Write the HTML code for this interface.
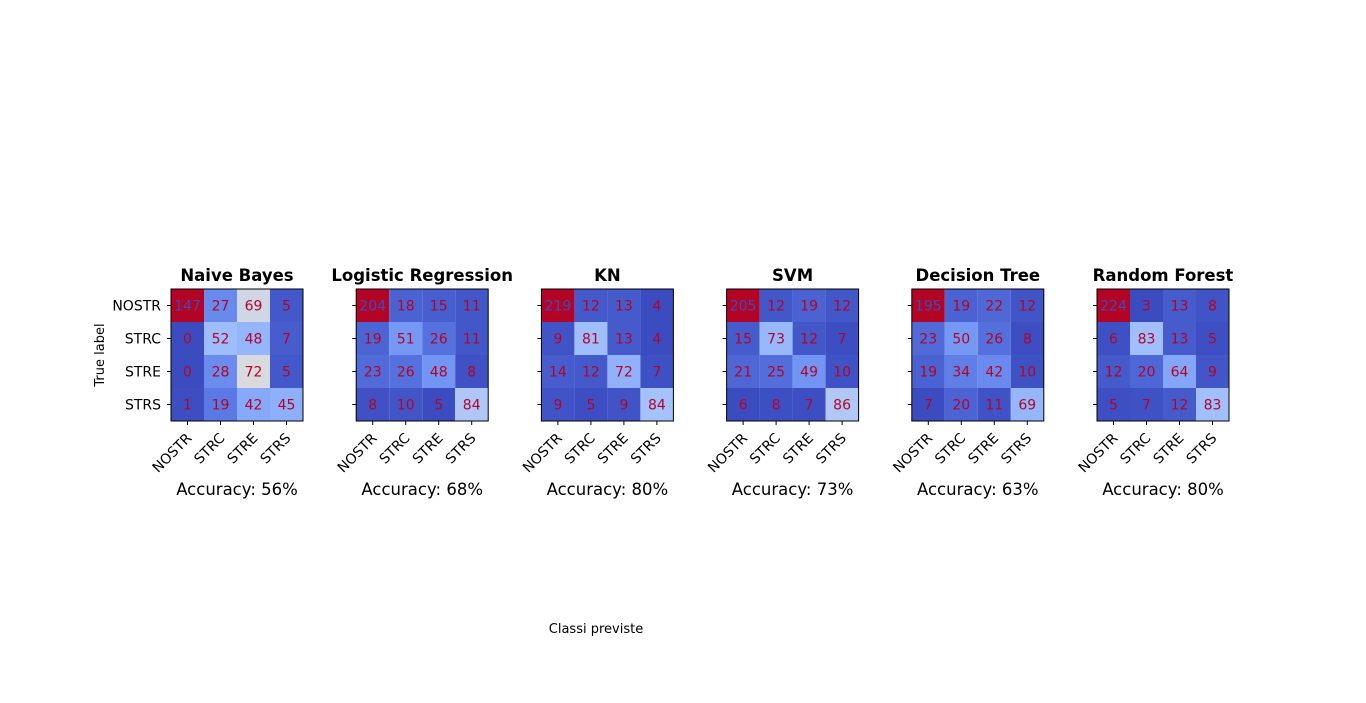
<!DOCTYPE html>
<html><head><meta charset="utf-8"><style>
html,body{margin:0;padding:0;background:#fff;}
svg{display:block;font-family:"DejaVu Sans","Liberation Sans",sans-serif;}
</style></head><body>
<svg id="fig" width="1366" height="703" viewBox="0 0 1366 703">
<text x="596" y="633" font-size="13" text-anchor="middle">Classi previste</text>
<text x="0" y="0" font-size="13" text-anchor="middle" transform="translate(104,355) rotate(-90)">True label</text>
</svg>
<script>
const classes = ["NOSTR","STRC","STRE","STRS"];
const models = ["Naive Bayes","Logistic Regression","KN","SVM","Decision Tree","Random Forest"];
const accuracies = [56,68,80,73,63,80];
const mNB = [[147,27,69,5],[0,52,48,7],[0,28,72,5],[1,19,42,45]];
const mLR = [[204,18,15,11],[19,51,26,11],[23,26,48,8],[8,10,5,84]];
const mKN = [[219,12,13,4],[9,81,13,4],[14,12,72,7],[9,5,9,84]];
const mSVM = [[205,12,19,12],[15,73,12,7],[21,25,49,10],[6,8,7,86]];
const mDT = [[195,19,22,12],[23,50,26,8],[19,34,42,10],[7,20,11,69]];
const mRF = [[224,3,13,8],[6,83,13,5],[12,20,64,9],[5,7,12,83]];
const matrices = [mNB,mLR,mKN,mSVM,mDT,mRF];

const NS="http://www.w3.org/2000/svg";
const svg=document.getElementById('fig');
const stops=[[0,[59,76,192]],[0.125,[90,120,227]],[0.25,[123,158,248]],[0.375,[165,195,254]],[0.5,[221,220,219]],[0.625,[243,190,166]],[0.75,[244,154,123]],[0.875,[222,96,76]],[1,[180,4,38]]];
function cmap(t){t=Math.max(0,Math.min(1,t));for(let i=1;i<stops.length;i++){if(t<=stops[i][0]){const a=stops[i-1],b=stops[i];const f=(t-a[0])/(b[0]-a[0]);return 'rgb('+a[1].map((v,k)=>Math.round(v+(b[1][k]-v)*f)).join(',')+')';}}return 'rgb(180,4,38)';}
function el(tag,attrs){const e=document.createElementNS(NS,tag);for(const k in attrs)e.setAttribute(k,attrs[k]);return e;}
const panelX0=171, panelStep=185.2, topY=289, cell=33;
function xPos(p){return panelX0+p*panelStep;}
matrices.forEach((m,p)=>{
  const x0=xPos(p);
  const g=el('g',{});
  
  
  svg.appendChild(g);
  const flat=m.flat();const mn=Math.min(...flat),mx=Math.max(...flat);
  m.forEach((row,i)=>row.forEach((v,j)=>{
    const r=el('rect',{x:x0+j*cell,y:topY+i*cell,width:cell,height:cell,fill:cmap((v-mn)/(mx-mn))});
    
    
    g.appendChild(r);
    const t=el('text',{x:x0+j*cell+cell/2,y:topY+i*cell+cell/2+5,'font-size':'14','text-anchor':'middle',fill:(v===mx?'#3b4cc0':'#b40426')});
    t.textContent=v;
    
    
    g.appendChild(t);
  }));
  g.appendChild(el('rect',{x:x0,y:topY,width:cell*4,height:cell*4,fill:'none',stroke:'#000','stroke-width':1}));
  const ti=el('text',{x:x0+cell*2,y:281,'font-size':'16.5','font-weight':'bold','text-anchor':'middle'});
  ti.textContent=models[p];
  
  
  g.appendChild(ti);
  classes.forEach((c,k)=>{
    const cx=x0+k*cell+cell/2, cy=topY+k*cell+cell/2;
    g.appendChild(el('line',{x1:cx,y1:topY+cell*4,x2:cx,y2:topY+cell*4+4,stroke:'#000'}));
    g.appendChild(el('line',{x1:x0-4,y1:cy,x2:x0,y2:cy,stroke:'#000'}));
    const xl=el('text',{x:0,y:0,'font-size':'14','text-anchor':'end',transform:'translate('+(cx+5)+','+(topY+cell*4+18)+') rotate(-45)'});
    xl.textContent=c;
    
    
    g.appendChild(xl);
    if(p===0){
      const yl=el('text',{x:x0-10,y:cy+5,'font-size':'14','text-anchor':'end'});
      yl.textContent=c;
      
      
      g.appendChild(yl);
    }
  });
  const acc=el('text',{x:x0+cell*2,y:495,'font-size':'16.5','text-anchor':'middle'});
  acc.textContent='Accuracy: '+accuracies[p]+'%';
  
  
  g.appendChild(acc);
});
</script>
</body></html>
